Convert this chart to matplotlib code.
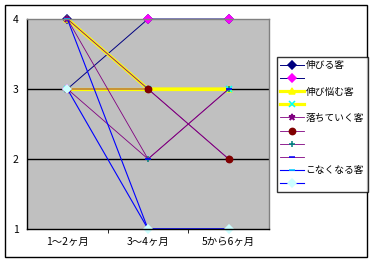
import matplotlib
matplotlib.use('Agg')
import matplotlib.pyplot as plt
from matplotlib.patches import Rectangle

plt.rcParams['font.family'] = ['Noto Sans CJK JP', 'DejaVu Sans']

# カテゴリと系列
cats = ['1〜2ヶ月', '3〜4ヶ月', '5から6ヶ月']
labels = ['伸びる客', '', '伸び悩む客', '', '落ちていく客', '', '', '', 'こなくなる客', '']
s1 = [4, 4, 4]
s2 = [3, 4, 4]
s3 = [4, 3, 3]
s4 = [3, 3, 3]
s5 = [4, 3, 2]
s6 = [3, 3, 2]
s7 = [3, 2, 3]
s8 = [4, 2, 3]
s9 = [4, 1, 1]
s10 = [3, 1, 1]
series = [s1, s2, s3, s4, s5, s6, s7, s8, s9, s10]

# 線の色, マーカー, マーカー色, 線幅, マーカーサイズ
styles = [
    ('#000080', 'D', '#000080', 0.7, 4.0),
    ('#000080', 'D', '#FF00FF', 0.7, 4.0),
    ('#FFFF00', '^', '#FFFF00', 2.3, 5.0),
    ('#FFFF00', 'x', '#00FFFF', 2.3, 4.5),
    ('#800080', '*', '#800080', 0.6, 5.0),
    ('#800080', 'o', '#800000', 0.6, 4.5),
    ('#800080', '+', '#008080', 0.6, 5.0),
    ('#800080', '_', '#0000FF', 0.6, 4.5),
    ('#0000FF', '_', '#00CCFF', 0.8, 4.5),
    ('#0000FF', 'D', '#CCFFFF', 0.8, 4.0),
]

W, H = 372, 262
fig = plt.figure(figsize=(W / 100, H / 100), dpi=100)
fig.patch.set_facecolor('white')

# 外枠
fig.patches.append(Rectangle((5 / W, 5 / H), 362 / W, 252 / H, transform=fig.transFigure,
                             fill=False, edgecolor='black', linewidth=1.0))

ax = fig.add_axes([27 / W, (H - 229) / H, 242 / W, 210 / H])
ax.set_facecolor('#C0C0C0')
x = list(range(len(cats)))

handles = []
for vals, (lc, mk, mc, lw, ms) in zip(series, styles):
    ln, = ax.plot(x, vals, color=lc, linewidth=lw, marker=mk, markersize=ms,
                  markerfacecolor=mc, markeredgecolor=mc, markeredgewidth=1.1, clip_on=False)
    handles.append(ln)

ax.set_xlim(-0.5, 2.5)
ax.set_ylim(1, 4)
ax.set_yticks([1, 2, 3, 4])
ax.set_yticklabels(['1', '2', '3', '4'], fontsize=7.5)
ax.tick_params(axis='y', length=0, pad=6)
ax.set_xticks(x)
ax.set_xticklabels(cats, fontsize=7.5)
ax.tick_params(axis='x', length=0, pad=6)
# カテゴリ境界の目盛り
ax.set_xticks([0.5, 1.5], minor=True)
ax.tick_params(axis='x', which='minor', length=3, direction='out', color='black')
for yv in [2, 3]:
    ax.axhline(yv, color='black', linewidth=1.0, zorder=0.5)
for sp in ['top', 'right']:
    ax.spines[sp].set_color('#808080')
for sp in ['left', 'bottom']:
    ax.spines[sp].set_color('black')
for sp in ax.spines.values():
    sp.set_linewidth(1.0)

leg = fig.legend(handles, labels, loc='upper left', bbox_to_anchor=(277 / W, 1 - 57 / H),
                 fontsize=7, frameon=True, fancybox=False, edgecolor='black',
                 handlelength=2.4, handletextpad=0.2, labelspacing=0.32, borderpad=0.35,
                 borderaxespad=0)
leg.get_frame().set_linewidth(1.0)

fig.savefig('out.png', dpi=100)
